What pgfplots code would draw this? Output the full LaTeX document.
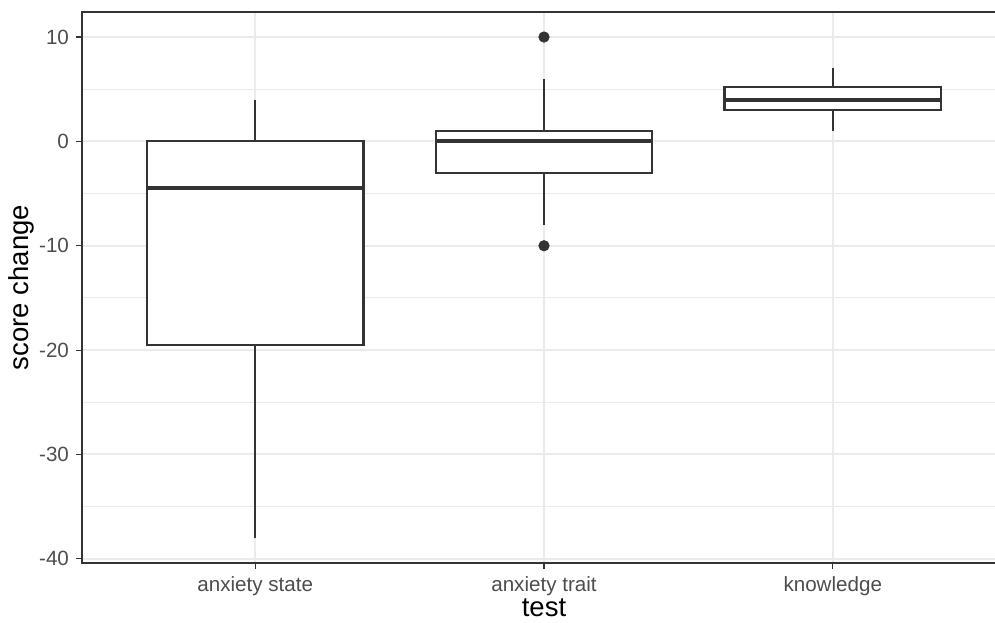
\documentclass[border=0pt]{standalone}
\usepackage{pgfplots}
\pgfplotsset{compat=1.18}
\usepgfplotslibrary{statistics}
\usepackage{fontspec}
\setmainfont{Liberation Sans}
\definecolor{gridc}{HTML}{EBEBEB}
\definecolor{gtwenty}{HTML}{333333}
\definecolor{gthirty}{HTML}{4D4D4D}
\begin{document}
\begin{tikzpicture}
\begin{axis}[
  at={(41pt,29.5pt)}, anchor=south west,
  scale only axis, width=462pt, height=275.5pt,
  xmin=0.4, xmax=3.6, ymin=-40.4, ymax=12.4,
  xtick={1,2,3},
  xticklabels={anxiety state,anxiety trait,knowledge},
  ytick={-40,-30,-20,-10,0,10},
  minor ytick={-35,-25,-15,-5,5},
  xtick pos=bottom, ytick pos=left,
  grid=both,
  major grid style={draw=gridc, line width=1pt},
  minor grid style={draw=gridc, line width=0.5pt},
  tick align=outside,
  major tick length=3pt,
  minor tick length=0pt,
  tick style={draw=gtwenty, line width=0.6pt},
  axis line style={draw=gtwenty, line width=0.7pt},
  /pgf/number format/assume math mode=true,
  ticklabel style={font=\fontsize{10.3}{12}\selectfont, text=gthirty},
  label style={font=\fontsize{13.75}{16}\selectfont, text=black},
  xlabel={test},
  ylabel={score change},
  xlabel style={at={(axis description cs:0.5,-0.097)}, anchor=base},
  ylabel style={at={(axis description cs:-0.0584,0.5)}, anchor=base},
  boxplot/draw direction=y,
  boxplot/box extend=0.75,
  boxplot/whisker extend=0,
  boxplot/every median/.style={line width=2.1pt},
  clip=true,
]
\addplot+[boxplot prepared={median=-4.5, upper quartile=0, lower quartile=-19.5, upper whisker=4, lower whisker=-38, draw position=1},
  draw=gtwenty, line width=1.1pt, solid, fill=white, mark=none] coordinates {};
\addplot+[boxplot prepared={median=0, upper quartile=1, lower quartile=-3, upper whisker=6, lower whisker=-8, draw position=2},
  draw=gtwenty, line width=1.1pt, solid, fill=white, mark=none] coordinates {};
\addplot+[boxplot prepared={median=4, upper quartile=5.25, lower quartile=3, upper whisker=7, lower whisker=1, draw position=3},
  draw=gtwenty, line width=1.1pt, solid, fill=white, mark=none] coordinates {};
\addplot[only marks, mark=*, mark size=2.6pt, color=gtwenty] coordinates {(2,10) (2,-10)};
\end{axis}
\pgfresetboundingbox
\useasboundingbox (0,0) rectangle (497.5pt,311pt);
\end{tikzpicture}
\end{document}
